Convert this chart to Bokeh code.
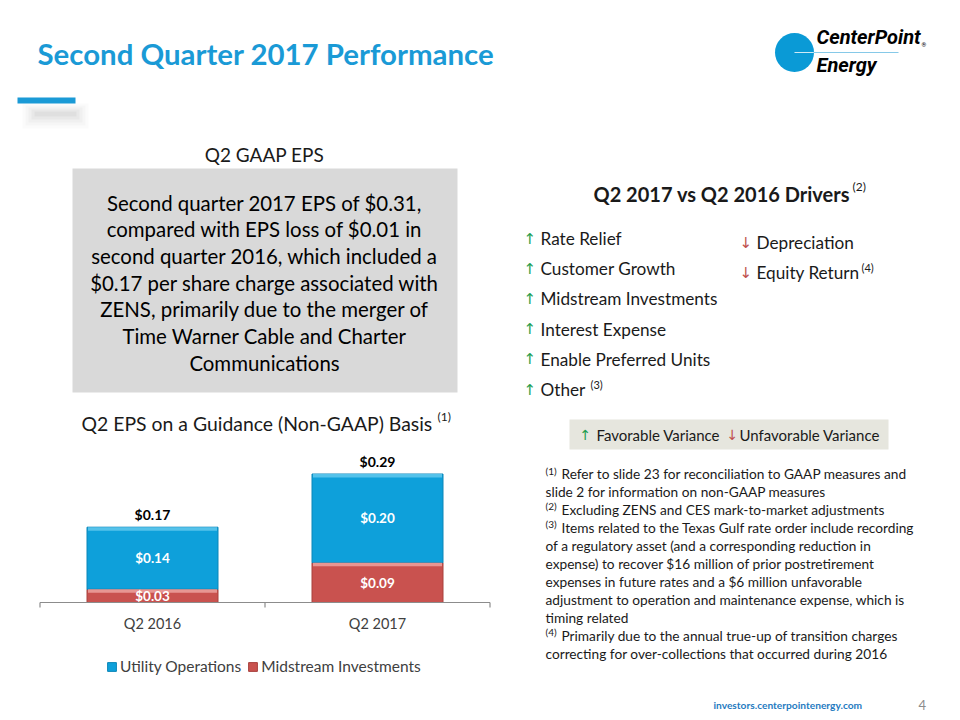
from bokeh.plotting import figure
from bokeh.models import Range1d, ColumnDataSource, Legend, LegendItem
from bokeh.core.properties import value
from bokeh.embed import file_html
from bokeh.resources import INLINE

# ---------------- data ----------------
categories = ["Q2 2016", "Q2 2017"]
utility_operations = [0.14, 0.20]
midstream_investments = [0.03, 0.09]
eps_totals = [0.17, 0.29]
series_names = ["Utility Operations", "Midstream Investments"]

box_lines = [
    "Second quarter 2017 EPS of $0.31,",
    "compared with EPS loss of $0.01 in",
    "second quarter 2016, which included a",
    "$0.17 per share charge associated with",
    "ZENS, primarily due to the merger of",
    "Time Warner Cable and Charter",
    "Communications",
]
favorable_drivers = ["Rate Relief", "Customer Growth", "Midstream Investments",
                     "Interest Expense", "Enable Preferred Units", "Other"]
unfavorable_drivers = ["Depreciation", "Equity Return"]
footnote_lines = [
    ("(1)", "Refer to slide 23 for reconciliation to GAAP measures and"),
    ("", "slide 2 for information on non-GAAP measures"),
    ("(2)", "Excluding ZENS and CES mark-to-market adjustments"),
    ("(3)", " Items related to the Texas Gulf rate order include recording"),
    ("", "of a regulatory asset (and a corresponding reduction in"),
    ("", "expense) to recover $16 million of prior postretirement"),
    ("", "expenses in future rates and a $6 million unfavorable"),
    ("", "adjustment to operation and maintenance expense, which is"),
    ("", "timing related"),
    ("(4)", "Primarily due to the annual true-up of transition charges"),
    ("", "correcting for over-collections that occurred during 2016"),
]

# ---------------- styles ----------------
FONT = value("Lato")
BLUE = "#0EA0DA"
BLUE_HI = "#55C2EA"
BLUE_EDGE = "#0B86B8"
RED = "#C9524F"
RED_HI = "#E79692"
RED_EDGE = "#A8403D"
TITLE_BLUE = "#1A9AD6"
GREEN = "#1E9E50"
DOWN_RED = "#C0504D"
DARK = "#1A1A1A"
GRAY_TXT = "#404040"

W, H = 960, 720
p = figure(width=W, height=H, x_range=Range1d(0, W), y_range=Range1d(H, 0),
           output_backend="svg", toolbar_location=None,
           x_axis_type=None, y_axis_type=None, min_border=0)
p.grid.visible = False
p.outline_line_color = None
p.background_fill_color = "white"
p.border_fill_color = "white"

# ---------------- chart mapping (extra ranges) ----------------
BASE_Y = 602.0      # pixel row of value 0
PPU = 443.0         # pixels per $1
CAT0_X = 152.0      # pixel column of first category
CAT_STEP = 225.0    # pixels between categories
p.extra_y_ranges = {"eps": Range1d(start=(BASE_Y - H) / PPU, end=BASE_Y / PPU)}
p.extra_x_ranges = {"cat": Range1d(start=-CAT0_X / CAT_STEP, end=(W - CAT0_X) / CAT_STEP)}
R = dict(x_range_name="cat", y_range_name="eps")

n = len(categories)
idx = list(range(n))
mid_top = midstream_investments
util_top = [m + u for m, u in zip(midstream_investments, utility_operations)]
src = ColumnDataSource(dict(
    x=idx, cat=categories,
    mid_bottom=[0.0] * n, mid_top=mid_top,
    util_bottom=mid_top, util_top=util_top,
    mid_hi_bottom=[t - 3.5 / PPU for t in mid_top],
    util_hi_bottom=[t - 3.5 / PPU for t in util_top],
    mid_lbl=[f"${v:.2f}" for v in midstream_investments],
    util_lbl=[f"${v:.2f}" for v in utility_operations],
    tot_lbl=[f"${v:.2f}" for v in eps_totals],
    mid_y=[m / 2 for m in midstream_investments],
    util_y=[m + u / 2 for m, u in zip(midstream_investments, utility_operations)],
    tot_y=[t + 12.5 / PPU for t in eps_totals],
    cat_y=[-21.0 / PPU] * n,
))
BW = 131.0 / CAT_STEP

r_mid = p.vbar(x="x", bottom="mid_bottom", top="mid_top", width=BW, source=src,
               fill_color=RED, line_color=RED_EDGE, line_width=1, **R)
r_util = p.vbar(x="x", bottom="util_bottom", top="util_top", width=BW, source=src,
                fill_color=BLUE, line_color=BLUE_EDGE, line_width=1, **R)
# bevel highlights
p.vbar(x="x", bottom="mid_hi_bottom", top="mid_top", width=BW - 2.0 / CAT_STEP, source=src,
       fill_color=RED_HI, line_color=None, **R)
p.vbar(x="x", bottom="util_hi_bottom", top="util_top", width=BW - 2.0 / CAT_STEP, source=src,
       fill_color=BLUE_HI, line_color=None, **R)

p.text(x="x", y="mid_y", text="mid_lbl", source=src, text_font=FONT, text_font_style="bold",
       text_font_size="13.5px", text_color="white", text_align="center", text_baseline="middle", **R)
p.text(x="x", y="util_y", text="util_lbl", source=src, text_font=FONT, text_font_style="bold",
       text_font_size="13.5px", text_color="white", text_align="center", text_baseline="middle", **R)
p.text(x="x", y="tot_y", text="tot_lbl", source=src, text_font=FONT, text_font_style="bold",
       text_font_size="14px", text_color="black", text_align="center", text_baseline="middle", **R)

# category axis
p.segment(x0=[-0.5], x1=[n - 0.5], y0=[0], y1=[0], line_color="#8C8C8C", line_width=1.2, **R)
p.segment(x0=[i - 0.5 for i in range(n + 1)], x1=[i - 0.5 for i in range(n + 1)],
          y0=[0] * (n + 1), y1=[-5.0 / PPU] * (n + 1), line_color="#8C8C8C", line_width=1.2, **R)
p.text(x="x", y="cat_y", text="cat", source=src, text_font=FONT, text_font_size="14.5px",
       text_color=GRAY_TXT, text_align="center", text_baseline="middle", **R)

legend = Legend(items=[LegendItem(label=series_names[0], renderers=[r_util]),
                       LegendItem(label=series_names[1], renderers=[r_mid])],
                orientation="horizontal", location=(106, 45),
                label_text_font="Lato", label_text_font_size="15.5px", label_text_color=GRAY_TXT,
                glyph_width=11, glyph_height=11, label_standoff=3, spacing=6,
                padding=0, margin=0, background_fill_alpha=0, border_line_color=None,
                label_height=16)
p.add_layout(legend)

# ---------------- slide decorations ----------------
p.text(x=[37], y=[53], text=["Second Quarter 2017 Performance"], text_font=FONT,
       text_font_style="bold", text_font_size="29.4px", text_color=TITLE_BLUE, text_baseline="middle")
# accent bar with soft shadow
for k, a in enumerate([0.015, 0.02, 0.025, 0.03, 0.035]):
    p.quad(left=[22 + k * 3], right=[88 - k * 3], top=[103 + k * 2], bottom=[128 - k * 3],
           fill_color="#000000", fill_alpha=a, line_color=None)
p.quad(left=[17], right=[75], top=[97], bottom=[103], fill_color=TITLE_BLUE, line_color=None)

# logo
p.circle(x=[794], y=[52], radius=19.5, fill_color="#0A9AD6", line_color=None)
p.segment(x0=[812], y0=[52], x1=[898], y1=[52], line_color="#86C9E8", line_width=1.2)
p.segment(x0=[794], y0=[52], x1=[813], y1=[52], line_color="#CFEAF6", line_width=1.2)
p.text(x=[816], y=[36], text=["CenterPoint"], text_font=value("Roboto"), text_font_style="bold italic",
       text_font_size="20px", text_color="black", text_baseline="middle")
p.text(x=[921], y=[44], text=["\u00ae"], text_font=value("Roboto"), text_font_style="bold",
       text_font_size="6px", text_color="black", text_baseline="middle")
p.text(x=[816], y=[64], text=["Energy"], text_font=value("Roboto"), text_font_style="bold italic",
       text_font_size="20px", text_color="black", text_baseline="middle")

# left panel
p.text(x=[264], y=[154], text=["Q2 GAAP EPS"], text_font=FONT, text_font_size="19px",
       text_color=DARK, text_align="center", text_baseline="middle")
p.quad(left=[72], right=[457], top=[168], bottom=[392], fill_color="#D9D9D9", line_color=None)
p.text(x=[264] * len(box_lines), y=[202 + 26.7 * i for i in range(len(box_lines))], text=box_lines,
       text_font=FONT, text_font_size="20.4px", text_color="black", text_align="center",
       text_baseline="middle")
p.text(x=[81], y=[423], text=["Q2 EPS on a Guidance (Non-GAAP) Basis"], text_font=FONT,
       text_font_size="19.4px", text_color=DARK, text_baseline="middle")
p.text(x=[437], y=[416], text=["(1)"], text_font=FONT, text_font_size="12px",
       text_color=DARK, text_baseline="middle")

# drivers
p.text(x=[593], y=[193], text=["Q2 2017 vs Q2 2016 Drivers"], text_font=FONT, text_font_style="bold",
       text_font_size="20px", text_color=DARK, text_baseline="middle")
p.text(x=[852], y=[186], text=["(2)"], text_font=FONT, text_font_size="12px",
       text_color=DARK, text_baseline="middle")
fy = [238 + 30.2 * i for i in range(len(favorable_drivers))]
p.text(x=[523] * len(fy), y=fy, text=["\u2191"] * len(fy), text_font=value("DejaVu Sans"),
       text_font_size="15px", text_color=GREEN, text_baseline="middle")
p.text(x=[540] * len(fy), y=fy, text=favorable_drivers, text_font=FONT, text_font_size="17.2px",
       text_color=DARK, text_baseline="middle")
p.text(x=[590], y=[384], text=["(3)"], text_font=FONT, text_font_size="11px",
       text_color=DARK, text_baseline="middle")
uy = [242 + 30.2 * i for i in range(len(unfavorable_drivers))]
p.text(x=[739] * len(uy), y=uy, text=["\u2193"] * len(uy), text_font=value("DejaVu Sans"),
       text_font_size="15px", text_color=DOWN_RED, text_baseline="middle")
p.text(x=[756] * len(uy), y=uy, text=unfavorable_drivers, text_font=FONT, text_font_size="17.2px",
       text_color=DARK, text_baseline="middle")
p.text(x=[861], y=[267], text=["(4)"], text_font=FONT, text_font_size="11px",
       text_color=DARK, text_baseline="middle")

# variance key box
p.quad(left=[569], right=[888], top=[419], bottom=[449], fill_color="#E6E6DE", line_color=None)
p.text(x=[579, 726], y=[434, 434], text=["\u2191", "\u2193"], text_font=value("DejaVu Sans"),
       text_font_size="14px", text_color=[GREEN, DOWN_RED], text_baseline="middle")
p.text(x=[596, 739], y=[434, 434], text=["Favorable Variance", "Unfavorable Variance"],
       text_font=FONT, text_font_size="15px", text_color=DARK, text_baseline="middle")

# footnotes
fny = [473 + 17.95 * i for i in range(len(footnote_lines))]
sup_y, sup_t, body_y, body_x, body_t = [], [], [], [], []
for (s, t), y in zip(footnote_lines, fny):
    if s:
        sup_y.append(y - 3)
        sup_t.append(s)
        body_x.append(561)
    else:
        body_x.append(545)
    body_y.append(y)
    body_t.append(t)
p.text(x=[545] * len(sup_t), y=sup_y, text=sup_t, text_font=FONT, text_font_size="10px",
       text_color=DARK, text_baseline="middle")
p.text(x=body_x, y=body_y, text=body_t, text_font=FONT, text_font_size="13.7px",
       text_color=DARK, text_baseline="middle")

# footer
p.text(x=[713], y=[704], text=["investors.centerpointenergy.com"], text_font=FONT,
       text_font_style="bold", text_font_size="10.2px", text_color="#1F7BC1", text_baseline="middle")
p.text(x=[918], y=[704], text=["4"], text_font=FONT, text_font_size="13px",
       text_color="#8C8C8C", text_baseline="middle")

open("out.html", "w").write(file_html(p, INLINE))
